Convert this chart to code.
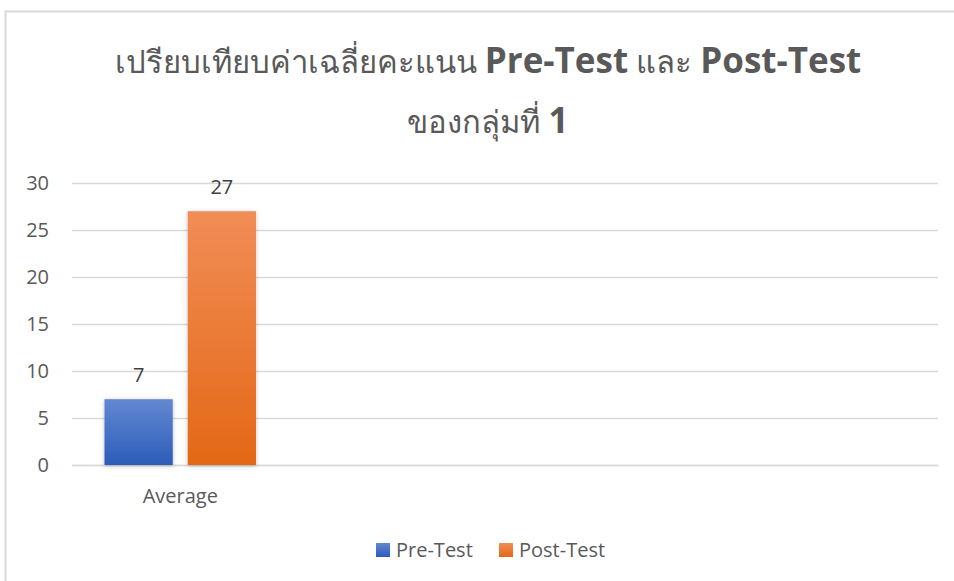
<!DOCTYPE html>
<html>
<head>
<meta charset="utf-8">
<script src="https://cdn.jsdelivr.net/npm/d3@7"></script>
<style>
  body { margin: 0; background: #fff; }
  svg { display: block; font-family: "Open Sans", "Noto Sans", sans-serif; }
</style>
</head>
<body>
<div id="chart"></div>
<script>
// chart data
const categories = ["Average", "", "", ""];
const seriesNames = ["Pre-Test", "Post-Test"];
const preTest = [7, null, null, null];
const postTest = [27, null, null, null];
const yTicks = [0, 5, 10, 15, 20, 25, 30];
// title pieces: [text, thai?]
const titleLines = [
  [["เปรียบเทียบค่าเฉลี่ยคะแนน ", true], ["Pre-Test", false], [" และ ", true], ["Post-Test", false]],
  [["ของกลุ่มที่ ", true], ["1", false]],
];

function GroupedBarChart(
  id,
  {
    width = 954,
    height = 581,
    marginTop = 183,
    marginRight = 16,
    marginBottom = 116,
    marginLeft = 72,
    colors = [
      ["#6388d2", "#2c5cb8"],
      ["#f18d57", "#e36816"],
    ],
    textColor = "#595959",
    fontSize = 20,
  } = {}
) {
  const values = [preTest, postTest];

  const xScale = d3
    .scaleBand()
    .domain(d3.range(categories.length))
    .range([marginLeft, width - marginRight]);
  const x1 = d3
    .scaleBand()
    .domain(d3.range(seriesNames.length))
    .range([0, xScale.bandwidth()])
    .paddingInner(0.18)
    .paddingOuter(0.39);
  const yScale = d3
    .scaleLinear()
    .domain([0, 30])
    .range([height - marginBottom, marginTop]);

  const svg = d3
    .select(id)
    .append("svg")
    .attr("width", width)
    .attr("height", height)
    .attr("viewBox", [0, 0, width, height]);

  const defs = svg.append("defs");
  colors.forEach(([top, bottom], i) => {
    const g = defs
      .append("linearGradient")
      .attr("id", "grad" + i)
      .attr("x1", 0)
      .attr("x2", 0)
      .attr("y1", 0)
      .attr("y2", 1);
    g.append("stop").attr("offset", "0%").attr("stop-color", top);
    g.append("stop").attr("offset", "100%").attr("stop-color", bottom);
  });
  const shadow = defs
    .append("filter")
    .attr("id", "shadow")
    .attr("x", "-20%")
    .attr("y", "-20%")
    .attr("width", "140%")
    .attr("height", "140%");
  shadow
    .append("feDropShadow")
    .attr("dx", 0)
    .attr("dy", 1)
    .attr("stdDeviation", 2)
    .attr("flood-color", "#000")
    .attr("flood-opacity", 0.25);

  // chart area border
  svg
    .append("rect")
    .attr("x", 5.5)
    .attr("y", 11.5)
    .attr("width", width)
    .attr("height", height)
    .attr("fill", "none")
    .attr("stroke", "#d9d9d9")
    .attr("stroke-width", 2);

  // title
  const title = svg
    .append("text")
    .attr("text-anchor", "middle")
    .attr("fill", textColor);
  titleLines.forEach((parts, i) => {
    const line = title
      .append("tspan")
      .attr("x", 488)
      .attr("y", [73, 133][i]);
    parts.forEach(([t, thai]) => {
      line
        .append("tspan")
        .attr("font-size", thai ? 31 : 35)
        .attr("font-weight", thai ? 500 : 700)
        .text(t);
    });
  });

  // y axis + gridlines
  svg
    .append("g")
    .attr("transform", `translate(${marginLeft},0)`)
    .call(
      d3
        .axisLeft(yScale)
        .tickValues(yTicks)
        .tickSize(0)
        .tickPadding(23)
    )
    .attr("font-family", null)
    .attr("font-size", fontSize)
    .call((g) => g.select(".domain").remove())
    .call((g) => g.selectAll(".tick text").attr("fill", textColor))
    .call((g) =>
      g
        .selectAll(".tick line")
        .clone()
        .attr("x2", width - marginLeft - marginRight)
        .attr("stroke", "#d9d9d9")
        .attr("stroke-width", 1.5)
    );

  // x axis
  svg
    .append("g")
    .attr("transform", `translate(0,${height - marginBottom})`)
    .call(
      d3
        .axisBottom(xScale)
        .tickFormat((i) => categories[i])
        .tickSize(0)
        .tickPadding(24)
    )
    .attr("font-family", null)
    .attr("font-size", fontSize)
    .call((g) => g.select(".domain").attr("stroke", "#d9d9d9").attr("stroke-width", 1.5))
    .call((g) => g.selectAll(".tick text").attr("fill", textColor));

  // bars
  const groups = svg
    .append("g")
    .selectAll("g")
    .data(values)
    .join("g")
    .attr("fill", (d, s) => `url(#grad${s})`);

  groups
    .selectAll("rect")
    .data((d, s) =>
      d.map((v, i) => ({ v, i, s })).filter((d) => d.v != null)
    )
    .join("rect")
    .attr("filter", "url(#shadow)")
    .attr("x", (d) => xScale(d.i) + x1(d.s))
    .attr("width", x1.bandwidth())
    .attr("y", (d) => yScale(d.v))
    .attr("height", (d) => yScale(0) - yScale(d.v));

  // data labels
  groups
    .selectAll("text")
    .data((d, s) =>
      d.map((v, i) => ({ v, i, s })).filter((d) => d.v != null)
    )
    .join("text")
    .attr("x", (d) => xScale(d.i) + x1(d.s) + x1.bandwidth() / 2)
    .attr("y", (d) => yScale(d.v) - 17)
    .attr("text-anchor", "middle")
    .attr("fill", "#404040")
    .attr("font-size", fontSize)
    .text((d) => d.v);

  // legend
  const legend = svg
    .append("g")
    .selectAll("g")
    .data(seriesNames)
    .join("g")
    .attr("transform", (d, i) => `translate(${[376, 499][i]},543)`);
  legend
    .append("rect")
    .attr("width", 14)
    .attr("height", 14)
    .attr("fill", (d, i) => `url(#grad${i})`);
  legend
    .append("text")
    .attr("x", 20)
    .attr("y", 14)
    .attr("fill", textColor)
    .attr("font-size", fontSize)
    .text((d) => d);

  return svg.node();
}

GroupedBarChart("#chart");
</script>
</body>
</html>
